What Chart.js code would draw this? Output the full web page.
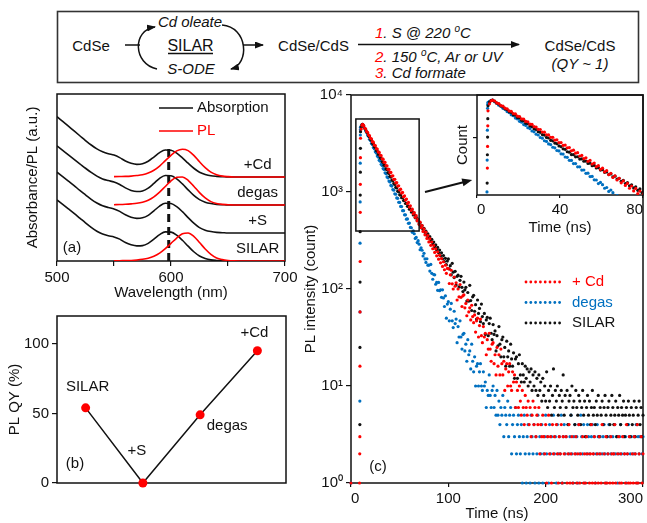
<!DOCTYPE html>
<html>
<head>
<meta charset="utf-8">
<script src="https://cdn.jsdelivr.net/npm/chart.js@4.4.1/dist/chart.umd.min.js"></script>
<style>
  html, body { margin: 0; padding: 0; background: #fff; }
  #page { position: relative; width: 647px; height: 523px; overflow: hidden; }
  #page canvas, #page svg { position: absolute; }
</style>
</head>
<body>
<div id="page">
  <svg id="scheme" width="647" height="88" style="left:0;top:0" font-family="'Liberation Sans', Arial, sans-serif" font-size="15">
    <defs>
      <marker id="head" markerWidth="9" markerHeight="7" refX="8" refY="3.5" orient="auto" markerUnits="userSpaceOnUse">
        <path d="M0,0 L9,3.5 L0,7 z" fill="#111"/>
      </marker>
    </defs>
    <rect x="57.5" y="11.5" width="581" height="71" fill="none" stroke="#333" stroke-width="1.6"/>
    <g fill="#111" stroke="none">
      <text x="91" y="50.5" text-anchor="middle">CdSe</text>
      <text x="190" y="27" text-anchor="middle" font-style="italic">Cd oleate</text>
      <text x="190.5" y="50.5" text-anchor="middle" font-size="16">SILAR</text>
      <text x="191" y="73.5" text-anchor="middle" font-style="italic">S-ODE</text>
      <text x="313.5" y="50.5" text-anchor="middle">CdSe/CdS</text>
      <text x="375" y="37.5" font-style="italic"><tspan fill="#f00">1</tspan>. S @ 220 <tspan font-size="10" dy="-6">o</tspan><tspan dy="6">C</tspan></text>
      <text x="375" y="61.5" font-style="italic"><tspan fill="#f00">2</tspan>. 150 <tspan font-size="10" dy="-6">o</tspan><tspan dy="6">C, Ar or UV</tspan></text>
      <text x="375" y="77.5" font-style="italic"><tspan fill="#f00">3</tspan>. Cd formate</text>
      <text x="580" y="50.5" text-anchor="middle">CdSe/CdS</text>
      <text x="580" y="68.5" text-anchor="middle" font-style="italic">(QY ~ 1)</text>
    </g>
    <g fill="none" stroke="#111" stroke-width="1.5">
      <line x1="168" y1="53.5" x2="213" y2="53.5"/>
      <line x1="125" y1="45" x2="140" y2="45"/>
      <path d="M157 69 C133 64 132 30 155 27" marker-end="url(#head)"/>
      <path d="M222 25 C248 27 250 64 231 69" marker-end="url(#head)"/>
      <line x1="243" y1="45" x2="263" y2="45" marker-end="url(#head)"/>
      <line x1="358" y1="44.5" x2="519" y2="44.5" marker-end="url(#head)"/>
    </g>
  </svg>
  <canvas id="spectra" width="300" height="217" style="left:0;top:85px"></canvas>
  <canvas id="qy" width="300" height="223" style="left:0;top:300px"></canvas>
  <canvas id="decay" width="347" height="438" style="left:300px;top:85px"></canvas>
  <canvas id="inset" width="207" height="153" style="left:440px;top:85px"></canvas>
</div>
<script>
'use strict';

// ─── Palette / fonts ─────────────────────────────────────────────────────────

const INK  = '#111111';
const RED  = '#ff0000';
const BLUE = '#0070c0';
const FONT_FAMILY = "'Liberation Sans', Arial, sans-serif";
const FONT = `15px ${FONT_FAMILY}`;

// ─── (a) Absorption / PL spectra ─────────────────────────────────────────────

const wavelengths = [500, 505, 510, 515, 520, 525, 530, 535, 540, 545, 550, 555, 560, 565, 570, 575, 580, 585, 590, 595,
                     600, 605, 610, 615, 620, 625, 630, 635, 640, 645, 650, 655, 660, 665, 670, 675, 680, 685, 690, 695, 700];

const absSilar = [2.18, 2.02, 1.86, 1.70, 1.53, 1.36, 1.20, 1.06, 0.96, 0.90, 0.86, 0.78, 0.66, 0.58, 0.54, 0.55, 0.63, 0.78, 0.94, 1.04,
                  1.03, 0.92, 0.74, 0.53, 0.33, 0.18, 0.09, 0.04, 0.02, 0.01, 0, 0, 0, 0, 0, 0, 0, 0, 0, 0, 0];
const absS     = [2.17, 2.01, 1.85, 1.69, 1.52, 1.36, 1.20, 1.07, 0.97, 0.91, 0.86, 0.77, 0.65, 0.56, 0.52, 0.54, 0.63, 0.79, 0.96, 1.06,
                  1.05, 0.94, 0.76, 0.55, 0.35, 0.19, 0.10, 0.05, 0.02, 0.01, 0, 0, 0, 0, 0, 0, 0, 0, 0, 0, 0];
const absDegas = [2.11, 1.95, 1.79, 1.63, 1.47, 1.31, 1.16, 1.03, 0.93, 0.87, 0.82, 0.73, 0.61, 0.52, 0.48, 0.50, 0.60, 0.77, 0.95, 1.05,
                  1.04, 0.93, 0.75, 0.54, 0.34, 0.19, 0.10, 0.05, 0.02, 0.01, 0, 0, 0, 0, 0, 0, 0, 0, 0, 0, 0];
const absCd    = [2.15, 1.98, 1.81, 1.64, 1.47, 1.30, 1.14, 1.00, 0.90, 0.83, 0.78, 0.69, 0.57, 0.49, 0.45, 0.47, 0.56, 0.71, 0.87, 0.96,
                  0.95, 0.85, 0.68, 0.49, 0.31, 0.17, 0.09, 0.04, 0.02, 0.01, 0, 0, 0, 0, 0, 0, 0, 0, 0, 0, 0];

// PL was only recorded from 550 nm on
const plSilar = [null, null, null, null, null, null, null, null, null, null,
                 0.005, 0.01, 0.015, 0.02, 0.035, 0.06, 0.10, 0.17, 0.28, 0.44, 0.63, 0.82, 0.97, 1.00, 0.88, 0.66, 0.43, 0.24, 0.11, 0.05,
                 0.02, 0.005, 0, 0, 0, 0, 0, 0, 0, 0, 0];
const plDegas = [null, null, null, null, null, null, null, null, null, null,
                 0.01, 0.015, 0.025, 0.04, 0.06, 0.10, 0.17, 0.29, 0.46, 0.66, 0.86, 0.99, 1.00, 0.88, 0.67, 0.44, 0.25, 0.12, 0.05, 0.02,
                 0.01, 0, 0, 0, 0, 0, 0, 0, 0, 0, 0];
const plCd    = [null, null, null, null, null, null, null, null, null, null,
                 0.01, 0.015, 0.02, 0.03, 0.05, 0.08, 0.14, 0.24, 0.39, 0.58, 0.77, 0.93, 0.99, 0.94, 0.77, 0.54, 0.33, 0.17, 0.08, 0.03,
                 0.01, 0, 0, 0, 0, 0, 0, 0, 0, 0, 0];

const stackNames = ['SILAR', '+S', 'degas', '+Cd'];
const PEAK_NM = 598;        // first exciton, dashed guide
const PEAK_GUIDE_TOP = 4.07;

// ─── (b) PL quantum yield ────────────────────────────────────────────────────

const qySamples = ['SILAR', '+S', 'degas', '+Cd'];
const qyValues  = [54, 0, 49, 95];

// ─── (c) PL decay (TCSPC counts) ─────────────────────────────────────────────

const riseTimes = [0, 0.6, 8.8, 9.0, 9.1, 9.2, 9.3, 9.4, 9.5, 9.6, 9.7, 9.8, 10.5, 11.3];
const riseCd    = [1, 0, 1, 2, 3, 16, 58, 192, 617, 1200, 2260, 3580, 4450, 4880];
const riseSilar = [0, 0, 0, 0, 4, 25, 118, 390, 930, 1600, 2820, 4190, 4700, 4920];
const riseDegas = [1, 0, 0, 0, 7, 58, 297, 790, 1980, 3870, 4400, 4650, 4800, 4950];

const DECAY_T0 = 12;   // ns, first channel after the peak
const CHANNEL_NS = 1;

const decayCd = [
  4980, 4850, 4570, 4480, 4210, 4130, 3890, 3810, 3580, 3530,
  3300, 3260, 3040, 3010, 2800, 2770, 2590, 2560, 2380, 2370,
  2200, 2180, 2030, 2020, 1870, 1860, 1720, 1710, 1590, 1590,
  1460, 1470, 1350, 1350, 1240, 1250, 1150, 1160, 1050, 1070,
  975, 990, 895, 910, 825, 845, 760, 780, 700, 720,
  645, 665, 595, 615, 548, 570, 505, 525, 462, 488,
  428, 450, 392, 416, 362, 385, 332, 356, 306, 330,
  282, 305, 260, 281, 238, 260, 220, 242, 203, 223,
  186, 206, 171, 191, 158, 176, 145, 163,
  162, 114, 140, 156, 113, 100, 133, 107, 116, 77,
  100, 83, 111, 82, 66, 85, 87, 64, 71, 53,
  77, 58, 64, 48, 68, 52, 45, 54, 36, 47,
  50, 32, 42, 49, 33, 28, 41, 32, 35, 21,
  30, 24, 35, 24, 18, 27, 28, 17, 21, 13,
  25, 16, 21, 13, 24, 17, 13, 18, 9, 15,
  17, 10, 14, 17, 10, 9, 14, 11, 13, 6,
  11,
  9, 6, 10, 7, 5, 9, 6, 4, 8, 6,
  5, 7, 4, 6, 3, 5, 7, 4, 6, 3,
  5, 4, 6, 2, 4, 3, 5, 3, 2, 4,
  1, 3, 5, 2, 3, 1, 4, 2, 3, 0,
  4, 2, 1, 3, 2, 4, 1, 3, 2, 0,
  3, 1, 2, 4, 1, 2, 3, 1, 0, 2,
  3, 1, 2, 4, 1, 2, 0, 3, 1, 2,
  1, 3, 2, 0, 1, 2, 4, 1, 2, 3,
  1, 0, 2, 1, 3, 2, 1, 4, 0, 2,
  1, 3, 1, 2, 0, 1, 3, 2, 1, 2,
  4, 1, 0, 2, 3, 1, 2, 1, 3, 0,
  2, 1, 4, 2, 1, 3, 1, 0, 2, 1,
  3, 2, 1, 4, 1, 2, 0, 3, 1, 2
];

const decayDegas = [
  4990, 4720, 4560, 4270, 4140, 3870, 3750, 3500, 3400, 3170,
  3080, 2870, 2790, 2600, 2530, 2350, 2290, 2130, 2080, 1930,
  1880, 1745, 1705, 1580, 1545, 1430, 1400, 1295, 1270, 1170,
  1150, 1060, 1045, 958, 948, 868, 860, 784, 780, 710,
  708, 642, 642, 581, 582, 525, 528, 475,
  478, 431, 428, 384, 397, 371, 332, 340, 301, 315,
  290, 254, 266, 251, 219, 233, 204, 188, 205, 176,
  176, 153, 179, 145, 126, 141, 140, 112, 117, 97,
  117, 96, 98, 82, 98, 81, 66, 85, 50, 70,
  74, 47, 62, 71, 47, 40, 59, 44, 49, 28,
  41, 32, 47, 32, 24, 34, 35, 23, 27, 18,
  30, 21, 23, 15, 27, 18, 14, 20, 10, 16,
  17, 10, 14, 17, 10, 9, 14, 10, 11, 6,
  9, 8, 13, 8, 6, 9, 10, 6, 8, 5,
  9,
  5, 7, 4, 6, 5, 8, 3, 6, 5, 4,
  7, 3, 5, 6, 2, 4, 5, 3, 6, 2,
  4, 5, 3, 2, 4, 1, 3, 5, 2, 1,
  3, 4, 2, 1, 5, 3, 2, 4, 1, 3,
  2, 5, 1, 3, 2, 4, 1, 2, 3, 5,
  2, 3, 1, 4, 2, 3, 0, 5, 2, 3,
  1, 4, 2, 3, 2, 5, 1, 3, 4, 2,
  3, 0, 4, 2, 3, 5, 2, 1, 3, 4,
  2, 3, 1, 4, 2, 5, 3, 2, 4, 1,
  3, 2, 4, 3, 2, 0, 3, 4, 2, 3,
  1, 2, 4, 3, 2, 3, 0, 2, 3, 4,
  2, 1, 3, 2, 4, 3, 2, 0, 3, 2,
  4, 2, 3, 1, 2, 3, 4, 2, 0, 3,
  2, 3, 1, 2, 4, 3, 2, 3, 0, 2,
  3, 2, 4, 1, 3, 2, 3, 0, 2, 3
];

const decaySilar = [
  4970, 4820, 4540, 4420, 4160, 4050, 3810, 3710, 3490, 3410,
  3190, 3130, 2920, 2870, 2680, 2630, 2450, 2410, 2250, 2210,
  2060, 2020, 1890, 1850, 1730, 1700, 1585, 1555, 1450, 1425,
  1330, 1305, 1220, 1195, 1115, 1100, 1020, 1005, 935, 932,
  873, 874, 815, 818, 761, 766, 712, 716, 665, 670,
  621, 628, 580, 588, 542, 549, 506, 516, 472, 482,
  441, 451, 412, 423, 384, 395, 359, 370, 336, 346,
  312, 325, 291, 305, 271, 286, 253, 268, 236, 252,
  220, 236, 205, 221, 192, 207, 178, 194,
  204, 161, 174, 140, 184, 149, 131, 152, 110, 135,
  139, 105, 123, 135, 104, 94, 118, 98, 104, 75,
  92, 75, 109, 76, 60, 83, 86, 59, 69, 49,
  77, 56, 63, 46, 70, 52, 44, 56, 34, 48,
  51, 33, 44, 50, 35, 30, 43, 34, 37, 23,
  33, 26, 41, 27, 20, 30, 32, 20, 25, 16,
  29, 20, 23, 16, 27, 19, 16, 22, 12, 19,
  20, 12, 17, 21, 13, 11,
  17, 13, 11, 16, 12, 15, 10, 14, 11, 15,
  9, 13, 10, 14, 9, 12, 8, 13, 9, 11,
  7, 12, 8, 10, 7,
  14, 6, 9, 7, 10, 5, 8, 15, 6, 9,
  7, 10, 5, 8, 6, 9, 7, 13, 5, 8,
  6, 9, 4, 7, 8, 5, 10, 6, 7, 4,
  9, 6, 5, 8, 7, 4, 6, 9, 5, 7,
  3, 6, 8, 5, 7, 4, 6, 9, 5, 6,
  4, 7, 5, 8, 3, 6, 5, 7, 4, 6,
  8, 5, 3, 6, 7, 4, 5, 8, 6, 4,
  5, 7, 3, 6, 5, 8, 4, 6, 5, 7,
  3, 5, 6, 4, 7, 5, 3, 6, 4, 5,
  7, 3, 6, 4, 5, 7, 4, 6, 3, 5
];

const decadeTicks  = [1, 10, 100, 1000, 10000];
const decadeLabels = ['10⁰', '10¹', '10²', '10³', '10⁴'];

const INSET_SHIFT = -4.5;          // inset time axis is zeroed on the laser pulse
const ZOOM_BOX = { t0: 5, t1: 70, c0: 396, c1: 5660 };

// ─── Helpers ─────────────────────────────────────────────────────────────────

// Counts of zero cannot sit on a log axis, so they are left out.
function toPoints(rise, decay, shift = 0) {
  const pts = [];
  rise.forEach((c, i) => { if (c > 0) pts.push({ x: riseTimes[i] + shift, y: c }); });
  decay.forEach((c, i) => { if (c > 0) pts.push({ x: DECAY_T0 + i * CHANNEL_NS + shift, y: c }); });
  return pts;
}

function spectrum(values, offset) {
  const pts = [];
  values.forEach((v, i) => { if (v !== null) pts.push({ x: wavelengths[i], y: v + offset }); });
  return pts;
}

const frame = {
  id: 'frame',
  beforeDatasetsDraw(chart) {
    const { ctx, chartArea: a } = chart;
    ctx.save();
    ctx.strokeStyle = INK;
    ctx.lineWidth = 1.5;
    ctx.strokeRect(a.left, a.top, a.right - a.left, a.bottom - a.top);
    ctx.restore();
  }
};

const outwardTicks = (len) => ({ drawOnChartArea: false, drawTicks: true, tickLength: len, color: INK, lineWidth: 1.2 });

Chart.defaults.font.family = FONT_FAMILY;
Chart.defaults.font.size = 15;
Chart.defaults.color = INK;
Chart.defaults.animation = false;
Chart.defaults.events = [];
Chart.defaults.plugins.legend.display = false;
Chart.defaults.plugins.tooltip.enabled = false;

// ─── (a) chart ───────────────────────────────────────────────────────────────

const spectraDecor = {
  id: 'spectraDecor',
  afterDraw(chart) {
    const { ctx, chartArea: a, scales: { x, y } } = chart;
    ctx.save();
    ctx.font = FONT;
    ctx.textBaseline = 'middle';
    [['Absorption', INK, 14], ['PL', RED, 37]].forEach(([text, color, dy]) => {
      ctx.strokeStyle = color;
      ctx.lineWidth = 1.6;
      ctx.beginPath();
      ctx.moveTo(a.left + 102, a.top + dy);
      ctx.lineTo(a.left + 136, a.top + dy);
      ctx.stroke();
      ctx.fillStyle = color;
      ctx.textAlign = 'left';
      ctx.fillText(text, a.left + 140, a.top + dy);
    });
    ctx.fillStyle = INK;
    ctx.textAlign = 'center';
    stackNames.forEach((name, i) => {
      ctx.fillText(name, x.getPixelForValue(676), y.getPixelForValue(i + 0.42));
    });
    ctx.fillText('(a)', a.left + 15, a.bottom - 13);
    ctx.restore();
  }
};

const absSets = [absSilar, absS, absDegas, absCd];
const plSets = [[plSilar, 0], [plDegas, 2], [plCd, 3]];

new Chart(document.getElementById('spectra'), {
  type: 'line',
  data: {
    datasets: [
      ...plSets.map(([vals, off]) => ({ data: spectrum(vals, off), borderColor: RED })),
      ...absSets.map((vals, i) => ({ data: spectrum(vals, i), borderColor: INK })),
      {
        data: [{ x: PEAK_NM, y: 0 }, { x: PEAK_NM, y: PEAK_GUIDE_TOP }],
        borderColor: INK, borderWidth: 3, borderDash: [8, 5], cubicInterpolationMode: 'default'
      }
    ]
  },
  options: {
    responsive: false,
    layout: { padding: { left: 20, top: 9, right: 15, bottom: 0 } },
    elements: {
      point: { radius: 0 },
      line: { borderWidth: 1.6, cubicInterpolationMode: 'monotone' }
    },
    scales: {
      x: {
        type: 'linear', min: 500, max: 700,
        border: { display: false },
        grid: outwardTicks(5),
        ticks: { stepSize: 50, autoSkip: false, maxRotation: 0, padding: 3,
                 callback: v => (v % 100 === 0 ? String(v) : '') },
        title: { display: true, text: 'Wavelength (nm)', padding: 0 },
        afterFit(s) { s.height = 41; s.paddingLeft = 0; s.paddingRight = 0; }
      },
      y: {
        min: 0, max: 5.96,
        border: { display: false },
        grid: { display: false },
        ticks: { display: false },
        title: { display: true, text: 'Absorbance/PL (a.u.)', padding: { top: 4, bottom: 0 } },
        afterFit(s) { s.width = 37; s.paddingTop = 0; s.paddingBottom = 0; }
      }
    }
  },
  plugins: [frame, spectraDecor]
});

// ─── (b) chart ───────────────────────────────────────────────────────────────

const qyLabelOffsets = [[2, -21], [-6, -32], [27, 11], [-3, -18]];

const qyDecor = {
  id: 'qyDecor',
  afterDraw(chart) {
    const { ctx, chartArea: a } = chart;
    const pts = chart.getDatasetMeta(0).data;
    ctx.save();
    ctx.font = FONT;
    ctx.fillStyle = INK;
    ctx.textAlign = 'center';
    ctx.textBaseline = 'middle';
    qySamples.forEach((name, i) => {
      const [dx, dy] = qyLabelOffsets[i];
      ctx.fillText(name, pts[i].x + dx, pts[i].y + dy);
    });
    ctx.fillText('(b)', a.left + 18, a.bottom - 19);
    ctx.restore();
  }
};

new Chart(document.getElementById('qy'), {
  type: 'line',
  data: {
    labels: qySamples,
    datasets: [{
      data: qyValues,
      borderColor: INK, borderWidth: 1.5, tension: 0,
      pointRadius: 4.5, pointBorderWidth: 0, pointBackgroundColor: RED,
      clip: false
    }]
  },
  options: {
    responsive: false,
    layout: { padding: { left: 3, top: 16, right: 14, bottom: 40 } },
    scales: {
      x: { display: false, offset: true },
      y: {
        min: 0, max: 120,
        border: { display: false },
        grid: outwardTicks(5),
        ticks: { stepSize: 50, includeBounds: false, padding: 3 },
        title: { display: true, text: 'PL QY (%)', padding: { top: 3, bottom: 0 } },
        afterFit(s) { s.width = 54; s.paddingTop = 0; s.paddingBottom = 0; }
      }
    }
  },
  plugins: [frame, qyDecor]
});

// ─── (c) chart ───────────────────────────────────────────────────────────────

const decaySeries = [
  { label: '+ Cd',  color: RED,  rise: riseCd,    decay: decayCd },
  { label: 'degas', color: BLUE, rise: riseDegas, decay: decayDegas },
  { label: 'SILAR', color: INK,  rise: riseSilar, decay: decaySilar }
];
// red drawn on top, then black, then blue
const drawOrder = [0, 2, 1];

const zoomBox = {
  id: 'zoomBox',
  afterDraw(chart) {
    const { ctx, scales: { x, y } } = chart;
    const l = x.getPixelForValue(ZOOM_BOX.t0), r = x.getPixelForValue(ZOOM_BOX.t1);
    const t = y.getPixelForValue(ZOOM_BOX.c1), b = y.getPixelForValue(ZOOM_BOX.c0);
    ctx.save();
    ctx.strokeStyle = INK;
    ctx.lineWidth = 1.5;
    ctx.strokeRect(l, t, r - l, b - t);
    // pointer to the inset
    const x0 = x.getPixelForValue(76), y0 = y.getPixelForValue(1000);
    const x1 = x.getPixelForValue(124.5), y1 = y.getPixelForValue(1330);
    const ang = Math.atan2(y1 - y0, x1 - x0);
    ctx.lineWidth = 2;
    ctx.beginPath();
    ctx.moveTo(x0, y0);
    ctx.lineTo(x1 - 6 * Math.cos(ang), y1 - 6 * Math.sin(ang));
    ctx.stroke();
    ctx.fillStyle = INK;
    ctx.beginPath();
    ctx.moveTo(x1, y1);
    ctx.lineTo(x1 - 10 * Math.cos(ang) + 4 * Math.sin(ang), y1 - 10 * Math.sin(ang) - 4 * Math.cos(ang));
    ctx.lineTo(x1 - 10 * Math.cos(ang) - 4 * Math.sin(ang), y1 - 10 * Math.sin(ang) + 4 * Math.cos(ang));
    ctx.closePath();
    ctx.fill();
    ctx.restore();
  }
};

const decayLegend = {
  id: 'decayLegend',
  afterDraw(chart) {
    const { ctx, chartArea: a } = chart;
    ctx.save();
    ctx.font = FONT;
    ctx.textAlign = 'left';
    ctx.textBaseline = 'middle';
    decaySeries.forEach((s, i) => {
      const yy = a.top + 187 + i * 20.5;
      ctx.fillStyle = s.color;
      for (let k = 0; k < 8; k++) {
        ctx.beginPath();
        ctx.arc(a.right - 117 + k * 4.8, yy, 1.4, 0, Math.PI * 2);
        ctx.fill();
      }
      ctx.fillText(s.label, a.right - 71, yy);
    });
    ctx.fillStyle = INK;
    ctx.textAlign = 'center';
    ctx.fillText('(c)', a.left + 27, a.bottom - 16);
    ctx.restore();
  }
};

new Chart(document.getElementById('decay'), {
  type: 'scatter',
  data: {
    datasets: drawOrder.map(i => ({
      data: toPoints(decaySeries[i].rise, decaySeries[i].decay),
      backgroundColor: decaySeries[i].color,
      clip: false
    }))
  },
  options: {
    responsive: false,
    layout: { padding: { left: 0, top: 10, right: 4, bottom: 0 } },
    elements: { point: { radius: 1.6, borderWidth: 0 } },
    scales: {
      x: {
        type: 'linear', min: 0, max: 300,
        border: { display: false },
        grid: outwardTicks(4),
        ticks: { stepSize: 100, align: 'inner', maxRotation: 0, padding: 3 },
        title: { display: true, text: 'Time (ns)', padding: 0 },
        afterFit(s) { s.height = 40; s.paddingLeft = 0; s.paddingRight = 0; }
      },
      y: {
        type: 'logarithmic', min: 1, max: 10000,
        border: { display: false },
        grid: outwardTicks(5),
        afterBuildTicks(s) { s.ticks = decadeTicks.map(value => ({ value })); },
        ticks: { padding: 3, callback: v => decadeLabels[decadeTicks.indexOf(v)] || '' },
        title: { display: true, text: 'PL intensity (count)', padding: { top: 2, bottom: 0 } },
        afterFit(s) { s.width = 51; s.paddingTop = 0; s.paddingBottom = 0; }
      }
    }
  },
  plugins: [frame, zoomBox, decayLegend]
});

// ─── (c) inset: first 80 ns ──────────────────────────────────────────────────

new Chart(document.getElementById('inset'), {
  type: 'scatter',
  data: {
    datasets: drawOrder.map(i => ({
      data: toPoints(decaySeries[i].rise, decaySeries[i].decay, INSET_SHIFT).filter(p => p.x <= 82 && p.y >= 200),
      backgroundColor: decaySeries[i].color
    }))
  },
  options: {
    responsive: false,
    layout: { padding: { left: 11, top: 10, right: 4, bottom: 0 } },
    elements: { point: { radius: 1.6, borderWidth: 0 } },
    scales: {
      x: {
        type: 'linear', min: 0, max: 80,
        border: { display: false },
        grid: outwardTicks(3),
        ticks: { stepSize: 40, align: 'inner', maxRotation: 0, padding: 3 },
        title: { display: true, text: 'Time (ns)', padding: { top: 0, bottom: 1 } },
        afterFit(s) { s.height = 43; s.paddingLeft = 0; s.paddingRight = 0; }
      },
      y: {
        type: 'logarithmic', min: 270, max: 5830,
        border: { display: false },
        grid: outwardTicks(4),
        afterBuildTicks(s) { s.ticks = [{ value: 1560 }]; },
        ticks: { display: false },
        title: { display: true, text: 'Count', padding: { top: 3, bottom: 0 } },
        afterFit(s) { s.width = 26; s.paddingTop = 0; s.paddingBottom = 0; }
      }
    }
  },
  plugins: [frame]
});
</script>
</body>
</html>
